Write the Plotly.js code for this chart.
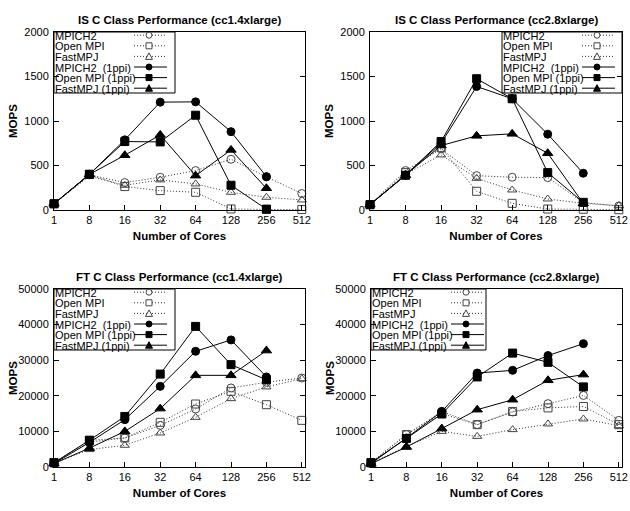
<!DOCTYPE html>
<html><head><meta charset="utf-8">
<script src="https://cdn.plot.ly/plotly-3.0.1.min.js"></script>
<style>html,body{margin:0;padding:0;background:#fff}#chart{width:630px;height:511px}</style>
</head><body><div id="chart"></div>
<script>
// ---------- data ----------
const cores = ["1", "8", "16", "32", "64", "128", "256", "512"];
const seriesNames = ["MPICH2", "Open MPI", "FastMPJ", "MPICH2\u00a0 (1ppi)", "Open MPI (1ppi)", "FastMPJ (1ppi)"];
const panelTitles = [
  "IS C Class Performance (cc1.4xlarge)",
  "IS C Class Performance (cc2.8xlarge)",
  "FT C Class Performance (cc1.4xlarge)",
  "FT C Class Performance (cc2.8xlarge)"
];
const xTitle = "Number of Cores";
const yTitle = "MOPS";

// IS, cc1.4xlarge
const isCc14Mpich2      = [68, 395, 308, 368, 443, 570, 372, 185];
const isCc14OpenMpi     = [70, 400, 263, 218, 199, 12, 6, 5];
const isCc14FastMpj     = [70, 380, 278, 338, 293, 199, 143, 113];
const isCc14Mpich2Ppi   = [70, 400, 788, 1212, 1215, 880, 375, null];
const isCc14OpenMpiPpi  = [70, 401, 769, 765, 1065, 278, 10, null];
const isCc14FastMpjPpi  = [70, 400, 615, 844, 386, 675, 244, null];
// IS, cc2.8xlarge
const isCc28Mpich2      = [60, 443, 687, 386, 368, 364, 83, 45];
const isCc28OpenMpi     = [60, 420, 700, 210, 75, 11, 8, 3];
const isCc28FastMpj     = [60, 400, 619, 356, 225, 124, 75, 49];
const isCc28Mpich2Ppi   = [60, 394, 750, 1388, 1250, 852, 413, null];
const isCc28OpenMpiPpi  = [60, 390, 769, 1475, 1250, 420, 86, null];
const isCc28FastMpjPpi  = [60, 390, 724, 833, 856, 638, 75, null];
// FT, cc1.4xlarge
const ftCc14Mpich2      = [1200, 7000, 8150, 11700, 16300, 22200, 23800, 25000];
const ftCc14OpenMpi     = [1200, 7500, 8150, 12550, 17700, 21250, 17500, 13100];
const ftCc14FastMpj     = [1000, 4900, 6100, 9550, 13950, 19200, 22500, 24800];
const ftCc14Mpich2Ppi   = [1000, 6900, 13300, 22650, 32500, 35700, 25300, null];
const ftCc14OpenMpiPpi  = [1200, 7500, 14200, 26100, 39500, 28750, 24500, null];
const ftCc14FastMpjPpi  = [1000, 5300, 10000, 16400, 25750, 25750, 32700, null];
// FT, cc2.8xlarge
const ftCc28Mpich2      = [1200, 9100, 15600, 11900, 15450, 17800, 20100, 13100];
const ftCc28OpenMpi     = [1200, 9100, 15000, 11900, 15600, 16600, 17000, 11900];
const ftCc28FastMpj     = [1000, 5800, 10000, 8600, 10500, 12100, 13500, 11600];
const ftCc28Mpich2Ppi   = [1000, 8150, 15600, 26400, 27150, 31300, 34650, null];
const ftCc28OpenMpiPpi  = [1200, 8000, 14900, 25300, 32000, 29400, 22500, null];
const ftCc28FastMpjPpi  = [900, 5600, 10800, 16100, 18900, 24350, 25950, null];

// ---------- styling ----------
const FONT = "Liberation Sans, Arial, Helvetica, sans-serif";
const W = 630, H = 511;
const panels = [
  {title: panelTitles[0], xa: "x",  ya: "y",  xd: [54, 305],  yd: [32, 210],  yr: [0, 2000],  dt: 500,
   series: [isCc14Mpich2, isCc14OpenMpi, isCc14FastMpj, isCc14Mpich2Ppi, isCc14OpenMpiPpi, isCc14FastMpjPpi],
   leg: {left: 0, width: 121}},
  {title: panelTitles[1], xa: "x2", ya: "y2", xd: [370, 622], yd: [32, 210],  yr: [0, 2000],  dt: 500,
   series: [isCc28Mpich2, isCc28OpenMpi, isCc28FastMpj, isCc28Mpich2Ppi, isCc28OpenMpiPpi, isCc28FastMpjPpi],
   leg: {left: 132, width: 120}},
  {title: panelTitles[2], xa: "x3", ya: "y3", xd: [54, 305],  yd: [289, 467], yr: [0, 50000], dt: 10000,
   series: [ftCc14Mpich2, ftCc14OpenMpi, ftCc14FastMpj, ftCc14Mpich2Ppi, ftCc14OpenMpiPpi, ftCc14FastMpjPpi],
   leg: {left: 0, width: 121}},
  {title: panelTitles[3], xa: "x4", ya: "y4", xd: [371, 622], yd: [289, 467], yr: [0, 50000], dt: 10000,
   series: [ftCc28Mpich2, ftCc28OpenMpi, ftCc28FastMpj, ftCc28Mpich2Ppi, ftCc28OpenMpiPpi, ftCc28FastMpjPpi],
   leg: {left: 0, width: 115}}
];
const symbols = ["circle-open", "square-open", "triangle-up-open", "circle", "square", "triangle-up"];
const dashes  = ["1px,2px", "1px,2px", "1px,2px", "solid", "solid", "solid"];
const lineColors = ["#333", "#333", "#333", "#000", "#000", "#000"];

const traces = [];
const shapes = [];
const annotations = [];
const layout = {
  width: W, height: H,
  margin: {l: 0, r: 0, t: 0, b: 0},
  paper_bgcolor: "#fff", plot_bgcolor: "#fff",
  showlegend: false,
  font: {family: FONT, size: 11, color: "#000"}
};

panels.forEach((p, pi) => {
  const xk = "xaxis" + (pi === 0 ? "" : pi + 1);
  const yk = "yaxis" + (pi === 0 ? "" : pi + 1);
  const common = {
    showline: true, linecolor: "#000", linewidth: 1,
    ticks: "inside", ticklen: 5, tickcolor: "#000", tickwidth: 1,
    showgrid: false, zeroline: false, fixedrange: true,
    tickfont: {family: FONT, size: 11, color: "#000"}
  };
  layout[xk] = Object.assign({}, common, {
    domain: [p.xd[0] / W, p.xd[1] / W], anchor: p.ya, mirror: true,
    type: "category", range: [0, 7.09],
    title: {text: xTitle, font: {family: FONT, size: 11.5, weight: "bold"}, standoff: 6}
  });
  layout[yk] = Object.assign({}, common, {
    domain: [1 - p.yd[1] / H, 1 - p.yd[0] / H], anchor: p.xa, mirror: "allticks",
    range: p.yr, dtick: p.dt, tick0: 0, tickformat: "d",
    ticklabelstandoff: 2
  });

  p.series.forEach((vals, si) => {
    const filled = si >= 3;
    traces.push({
      x: cores, y: vals, xaxis: p.xa, yaxis: p.ya,
      name: seriesNames[si], type: "scatter", mode: "lines+markers",
      cliponaxis: false,
      line: {color: lineColors[si], width: 1, dash: dashes[si]},
      marker: {symbol: symbols[si], size: si === 5 ? 9 : 8, color: filled ? "#000" : "#444",
               line: {color: filled ? "#000" : "#444", width: 1}}
    });
  });

  // subplot title
  annotations.push({
    xref: p.xa + " domain", yref: p.ya + " domain", x: 0.5, y: 1,
    xanchor: "center", yanchor: "middle", yshift: 12, showarrow: false,
    text: p.title, font: {family: FONT, size: 11.5, weight: "bold"}
  });
  // y axis title
  annotations.push({
    xref: p.xa + " domain", yref: p.ya + " domain", x: 0, y: 0.5,
    xanchor: "center", yanchor: "middle", xshift: -41, textangle: -90, showarrow: false,
    text: yTitle, font: {family: FONT, size: 11.5, weight: "bold"}
  });

  // legend (gnuplot style: text left, sample right)
  const L = p.leg.left, BW = p.leg.width, BH = 61;
  const px = {xref: p.xa + " domain", yref: p.ya + " domain", xsizemode: "pixel", ysizemode: "pixel", xanchor: 0, yanchor: 1};
  shapes.push(Object.assign({}, px, {type: "rect", x0: L, x1: L + BW, y0: 0, y1: -BH,
    line: {color: "#000", width: 1}, fillcolor: "rgba(0,0,0,0)"}));
  seriesNames.forEach((nm, si) => {
    const cy = 3.2 + 10.6 * si;
    const filled = si >= 3;
    annotations.push({
      xref: p.xa + " domain", yref: p.ya + " domain", x: 0, y: 1,
      xanchor: "left", yanchor: "middle", xshift: L, yshift: -cy - 0.5, showarrow: false,
      text: nm, font: {family: FONT, size: 11, color: "#000"}, borderpad: 0
    });
    const sx = L + 95;
    shapes.push(Object.assign({}, px, {type: "line",
      x0: L + 80, x1: filled ? L + 113 : L + 112, y0: -cy, y1: -cy,
      line: {color: lineColors[si], width: 1, dash: dashes[si]}}));
    const col = filled ? "#000" : "#444";
    const fill = filled ? "#000" : "#fff";
    const m = si % 3;
    if (m === 0) {
      shapes.push(Object.assign({}, px, {type: "circle", x0: sx - 3, x1: sx + 3, y0: -cy + 3, y1: -cy - 3,
        line: {color: col, width: 1}, fillcolor: fill}));
    } else if (m === 1) {
      shapes.push(Object.assign({}, px, {type: "rect", x0: sx - 3, x1: sx + 3, y0: -cy + 3, y1: -cy - 3,
        line: {color: col, width: 1}, fillcolor: fill}));
    } else {
      shapes.push(Object.assign({}, px, {type: "path",
        path: `M ${sx - 3.5},${-cy - 3} L ${sx + 3.5},${-cy - 3} L ${sx},${-cy + 3.5} Z`,
        line: {color: col, width: 1}, fillcolor: fill}));
    }
  });
});

layout.shapes = shapes;
layout.annotations = annotations;
Plotly.newPlot("chart", traces, layout, {displayModeBar: false, staticPlot: true});
</script>
</body></html>
